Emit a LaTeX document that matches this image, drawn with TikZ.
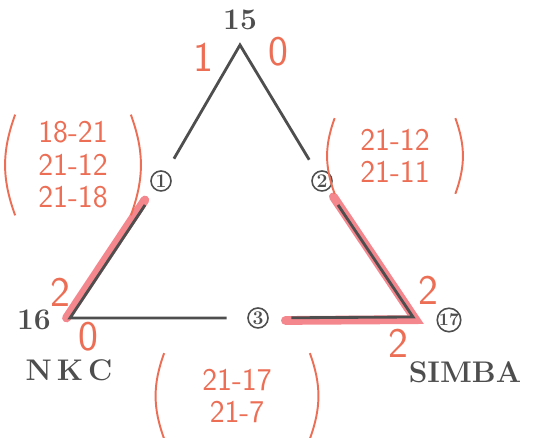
\documentclass[tikz,border=0pt]{standalone}
\usepackage{fontspec}
\definecolor{pencil}{HTML}{4E4E4E}
\definecolor{marker}{HTML}{F4868E}
\definecolor{redpen}{HTML}{EC6E55}
\begin{document}
\begin{tikzpicture}[
  side/.style={draw=pencil, line width=1.6pt},
  hilite/.style={draw=marker, line width=5pt, line cap=round},
  circnum/.style={circle, draw=pencil, text=pencil, line width=0.9pt, inner sep=0pt, minimum size=0.40cm, font=\fontsize{11}{11}\selectfont\bfseries},
  vlabel/.style={text=pencil, font=\fontsize{17}{17}\selectfont\bfseries},
  teamlabel/.style={text=pencil, font=\fontsize{17}{17}\selectfont\bfseries},
  redmark/.style={text=redpen, font=\fontsize{24}{24}\sffamily\selectfont},
  pairs/.style={text=redpen, align=center, inner sep=0pt, font=\fontsize{18}{18.5}\sffamily\selectfont},
  paren/.style={draw=redpen, line width=1.1pt}
]
\useasboundingbox (0,0) rectangle (10.94,8.76);

\coordinate (top) at (4.80,7.86);
\coordinate (left) at (1.40,2.40);
\coordinate (right) at (8.26,2.42);
\node[circnum] (c1) at (3.22,5.14) {1};
\node[circnum] (c2) at (6.44,5.14) {2};
\node[circnum] (c3) at (5.16,2.40) {3};
\node[circnum, minimum size=0.44cm, font=\fontsize{10}{10}\selectfont\bfseries] (c17) at (8.98,2.36) {17};

\draw[hilite, shorten <=0.24cm, transform canvas={xshift=-2pt}] (c1) -- (left);
\draw[hilite, shorten <=0.10cm, shorten >=0.28cm, transform canvas={xshift=1.5pt, yshift=-1.5pt}] (c2) -- (right) -- (c3);

\draw[side, shorten <=0.30cm, shorten >=0.28cm] (c1) -- (top) -- (c2);
\draw[side, shorten <=0.36cm, shorten >=0.41cm] (c1) -- (left) -- (c3);
\draw[side, shorten <=0.36cm, shorten >=0.45cm] (c2) -- (right) -- (c3);

\node[vlabel] (n15) at (4.80,8.36) {15};
\node[vlabel] (n16) at (0.68,2.36) {16};
\node[teamlabel] (nkc) at (1.38,1.36) {N\,K\,C};
\node[teamlabel] (simba) at (9.30,1.32) {SIMBA};

\node[redmark] (s1) at (4.06,7.62) {1};
\node[redmark] (s0) at (5.56,7.72) {0};
\node[redmark] (l2) at (1.20,2.92) {2};
\node[redmark] (l0) at (1.76,2.02) {0};
\node[redmark] (r2a) at (8.56,2.96) {2};
\node[redmark] (r2b) at (7.96,1.90) {2};

\node[pairs, minimum width=2.3cm, minimum height=2.0cm] (g1) at (1.46,5.46) {18-21\\21-12\\21-18};
\draw[paren] (g1.north west) to[bend right=20] (g1.south west);
\draw[paren] (g1.north east) to[bend left=20] (g1.south east);

\node[pairs, minimum width=2.4cm, minimum height=1.5cm] (g2) at (7.90,5.64) {21-12\\21-11};
\draw[paren] (g2.north west) to[bend right=20] (g2.south west);
\draw[paren] (g2.north east) to[bend left=20] (g2.south east);

\node[pairs, minimum width=2.9cm, minimum height=1.7cm] (g3) at (4.74,0.84) {21-17\\21-7};
\draw[paren] (g3.north west) to[bend right=20] (g3.south west);
\draw[paren] (g3.north east) to[bend left=20] (g3.south east);
\end{tikzpicture}
\end{document}
